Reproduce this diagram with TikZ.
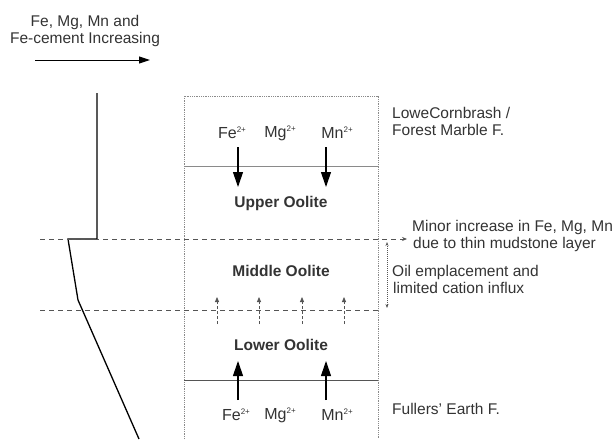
\documentclass[tikz,border=0pt]{standalone}
\usepackage{fontspec}
\setmainfont{Liberation Sans}
\usetikzlibrary{arrows.meta}
\definecolor{txt}{HTML}{333333}
\definecolor{boxgray}{HTML}{8A8A8A}
\definecolor{dashgray}{HTML}{555555}
\newcommand{\ionsup}[1]{\raisebox{6pt}{\fontsize{8}{8}\selectfont #1}}
\begin{document}
\begin{tikzpicture}[x=1pt,y=-1pt,
  lbl/.style={font=\fontsize{15.5}{17}\selectfont, text=txt, inner sep=0pt},
  unit/.style={font=\fontsize{15.5}{17}\selectfont\bfseries, text=txt, inner sep=0pt},
  ion/.style={font=\fontsize{16}{17}\selectfont, text=txt, inner sep=0pt},
  boxline/.style={draw=boxgray, line width=0.8pt, dash pattern=on 1pt off 0.8pt},
  levelline/.style={draw=dashgray, line width=0.8pt, dash pattern=on 5pt off 4pt},
  profile/.style={draw=black, line width=1.3pt},
  bigarrow/.style={draw=black, line width=1.1pt, -{Triangle[length=15pt,width=10pt]}},
  smallarrow/.style={draw=dashgray, line width=0.8pt, dash pattern=on 3pt off 2pt, -{Triangle[length=5pt,width=4pt]}},
  thinarrow/.style={draw=dashgray, line width=0.6pt, dash pattern=on 1pt off 1pt}
]
\useasboundingbox (0,0) rectangle (615,439);

% heading
\node[lbl, align=center] (head) at (85,31) {Fe, Mg, Mn and\\Fe-cement Increasing};
\coordinate (ha) at (35,60);
\coordinate (hb) at (150,60);
\draw[line width=1pt, -{Triangle[length=11pt,width=7pt]}] (ha) -- (hb);

% profile
\coordinate (p1) at (97,93);
\coordinate (p2) at (97,239);
\coordinate (p3) at (68,239);
\coordinate (p4) at (78,300);
\coordinate (p5) at (139,439);
\draw[profile] (p1) -- (p2) -- (p3) -- (p4) -- (p5);

% box
\coordinate (b1) at (184,439);
\coordinate (b2) at (184,96);
\coordinate (b3) at (378,96);
\coordinate (b4) at (378,439);
\draw[boxline] (b1) -- (b2) -- (b3) -- (b4);
\coordinate (u1) at (184,166);
\coordinate (u2) at (378,166);
\draw[draw=boxgray, line width=0.8pt] (u1) -- (u2);
\coordinate (l1) at (184,380);
\coordinate (l2) at (378,380);
\draw[draw=dashgray, line width=0.9pt] (l1) -- (l2);

% level lines
\coordinate (d1l) at (40,239);
\coordinate (d1r) at (407,239);
\draw[levelline, -{Stealth[length=5pt,width=4pt]}] (d1l) -- (d1r);
\coordinate (d2l) at (40,310);
\coordinate (d2r) at (378,310);
\draw[levelline] (d2l) -- (d2r);

% top ions
\node[ion] (fe1) at (232,133) {Fe\ionsup{2+}};
\node[ion] (mg1) at (280,133) {Mg\ionsup{2+}};
\node[ion] (mn1) at (337,133) {Mn\ionsup{2+}};
\coordinate (ta1) at (238,147);
\coordinate (tb1) at (238,187);
\coordinate (ta2) at (326,147);
\coordinate (tb2) at (326,187);
\draw[bigarrow] (ta1) -- (tb1);
\draw[bigarrow] (ta2) -- (tb2);

% unit names
\node[unit] (uo) at (281,203) {Upper Oolite};
\node[unit] (mo) at (281,271) {Middle Oolite};
\node[unit] (lo) at (281,345) {Lower Oolite};

% small influx arrows
\foreach \x [count=\i] in {217,259,302,344} {
  \coordinate (sa\i) at (\x,324);
  \coordinate (sb\i) at (\x,297);
  \draw[smallarrow] (sa\i) -- (sb\i);
}

% bottom ions
\node[ion] (fe2) at (236,415) {Fe\ionsup{2+}};
\node[ion] (mg2) at (280,415) {Mg\ionsup{2+}};
\node[ion] (mn2) at (337,415) {Mn\ionsup{2+}};
\coordinate (ba1) at (238,400);
\coordinate (bb1) at (238,361);
\coordinate (ba2) at (326,400);
\coordinate (bb2) at (326,361);
\draw[bigarrow] (ba1) -- (bb1);
\draw[bigarrow] (ba2) -- (bb2);

% right labels
\node[lbl, anchor=west, align=left] (cb) at (392,121) {LoweCornbrash /\\Forest Marble F.};
\node[lbl, anchor=west, align=left] (mi) at (412,236) {Minor increase in Fe, Mg, Mn\\\hspace{1pt}due to thin mudstone layer};
\node[lbl, anchor=west, align=left] (oil) at (392,279) {Oil emplacement and\\\hspace{1pt}limited cation influx};
\node[lbl, anchor=west] (fe) at (392,409) {Fullers' Earth F.};

\coordinate (va) at (387,242);
\coordinate (vb) at (387,308);
\draw[thinarrow, {Stealth[length=4pt,width=3pt]}-{Stealth[length=4pt,width=3pt]}] (va) -- (vb);
\end{tikzpicture}
\end{document}
